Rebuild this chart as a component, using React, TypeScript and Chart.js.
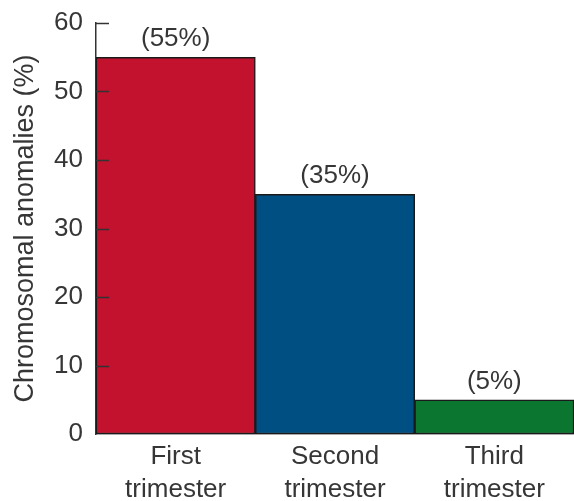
import React, { useEffect, useRef } from "react";
import { Chart, registerables } from "chart.js";

Chart.register(...registerables);

const categories: string[][] = [["First", "trimester"], ["Second", "trimester"], ["Third", "trimester"]];
const values: number[] = [55, 35, 5];
const valueLabels: string[] = ["(55%)", "(35%)", "(5%)"];
const barColors: string[] = ["#C2122E", "#004F82", "#0A7630"];
const yTicks: number[] = [0, 10, 20, 30, 40, 50, 60];
const yTitle = "Chromosomal anomalies (%)";

const FONT = "'Liberation Sans', Arial, Helvetica, sans-serif";
const TEXT = "#363636";

const overlay = {
  id: "overlay",
  afterDatasetsDraw(chart: any) {
    const ctx = chart.ctx;
    const y = chart.scales.y;
    const area = chart.chartArea;
    ctx.save();
    // inward ticks
    ctx.strokeStyle = "#333";
    ctx.lineWidth = 1.5;
    yTicks.forEach((v) => {
      if (v === 0) return;
      const py = Math.round(y.getPixelForValue(v)) + 0.5;
      ctx.beginPath();
      ctx.moveTo(area.left, py);
      ctx.lineTo(area.left + 13, py);
      ctx.stroke();
    });
    // value labels
    const meta = chart.getDatasetMeta(0);
    ctx.fillStyle = TEXT;
    ctx.font = `26px ${FONT}`;
    ctx.textAlign = "center";
    ctx.textBaseline = "bottom";
    meta.data.forEach((bar: any, i: number) => {
      ctx.fillText(valueLabels[i], bar.x, bar.y - 5);
    });
    ctx.restore();
  },
};

export default function App() {
  const ref = useRef<HTMLCanvasElement | null>(null);
  useEffect(() => {
    if (!ref.current) return;
    const chart = new Chart(ref.current, {
      type: "bar",
      data: {
        labels: categories,
        datasets: [
          {
            data: values,
            backgroundColor: barColors,
            borderColor: "#1a1a1a",
            borderWidth: 1.5,
            borderSkipped: false,
            categoryPercentage: 1,
            barPercentage: 1,
          },
        ],
      },
      options: {
        animation: false,
        responsive: false,
        maintainAspectRatio: false,
        layout: { padding: { top: 23, right: 0, left: 0, bottom: 0 } },
        plugins: { legend: { display: false }, tooltip: { enabled: false } },
        scales: {
          x: {
            grid: { display: false, drawTicks: false },
            border: { display: true, color: "#555", width: 1.5 },
            ticks: {
              color: TEXT,
              font: { family: FONT, size: 26, lineHeight: 1.25 },
              padding: 7,
              maxRotation: 0,
              autoSkip: false,
            },
            afterFit(scale: any) {
              scale.height = 67;
              scale.paddingLeft = 0;
              scale.paddingRight = 0;
            },
          },
          y: {
            min: 0,
            max: 60,
            grid: { display: false, drawTicks: false },
            border: { display: true, color: "#333", width: 1.5 },
            ticks: {
              stepSize: 10,
              color: TEXT,
              font: { family: FONT, size: 26 },
              padding: 13,
            },
            title: {
              display: true,
              text: yTitle,
              color: TEXT,
              font: { family: FONT, size: 27 },
              padding: { top: 9, bottom: 0 },
            },
            afterFit(scale: any) {
              scale.width = 96;
              scale.paddingTop = 0;
              scale.paddingBottom = 0;
            },
          },
        },
      },
      plugins: [overlay],
    });
    return () => chart.destroy();
  }, []);
  return (
    <div style={{ position: "absolute", left: 0, top: 0, width: 574, height: 501, background: "#fff" }}>
      <canvas ref={ref} width={574} height={501} style={{ width: 574, height: 501 }} />
    </div>
  );
}
